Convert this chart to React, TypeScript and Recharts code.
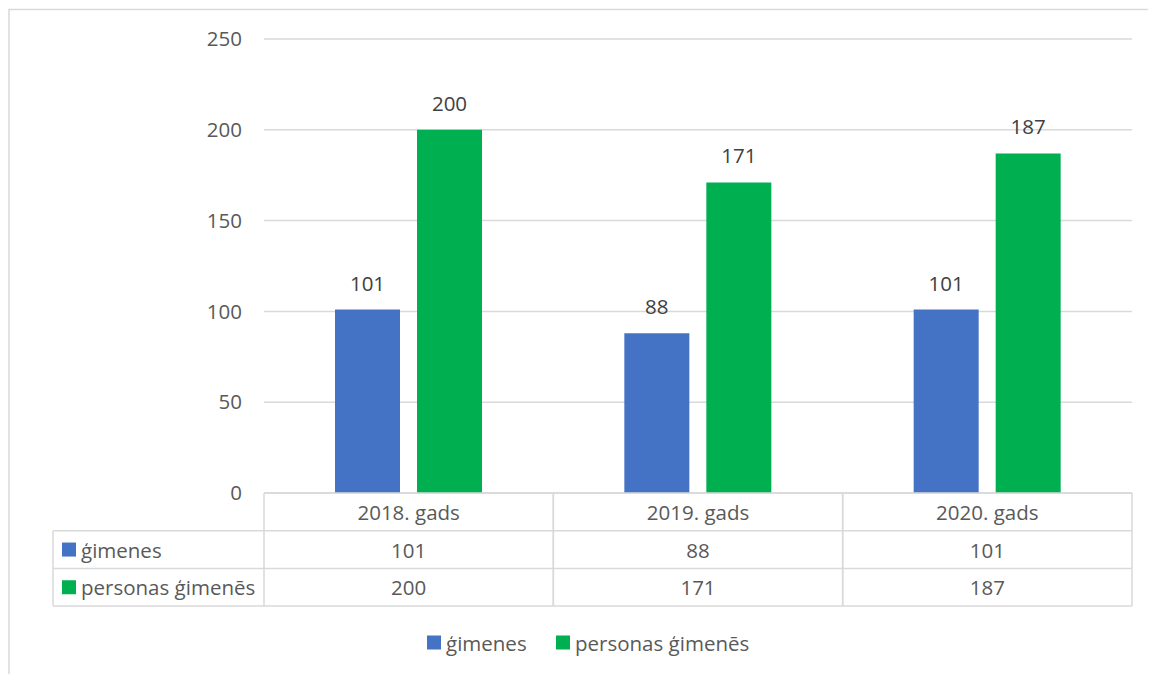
import React from 'react';
import { BarChart, Bar, XAxis, YAxis, CartesianGrid, LabelList, Customized } from 'recharts';

const categories = ['2018. gads', '2019. gads', '2020. gads'];
const gimenes = [101, 88, 101];
const personas = [200, 171, 187];
const yTicks = [0, 50, 100, 150, 200, 250];
const seriesNames = ['ģimenes', 'personas ģimenēs'];

const BLUE = '#4472C4';
const GREEN = '#00B050';
const TEXT = '#595959';
const LABEL = '#404040';
const LINE = '#D9D9D9';
const FONT = '"Open Sans", "Noto Sans", sans-serif';
const FS = 20.5;

const W = 1148;
const H = 666;
const M = { top: 31, right: 24, left: 196, bottom: 61 };
const YW = 60;
const XH = 120;
const PLOT_W = W - M.left - YW - M.right;
const ROW_H = 37.7;
const LEFT_COL = 211;

const data = categories.map((c, i) => ({ cat: c, g: gimenes[i], p: personas[i] }));
const seriesValues = [gimenes, personas];
const seriesColors = [BLUE, GREEN];

const TableTick = (props: any) => {
  const { x, y, payload, index } = props;
  const band = PLOT_W / categories.length;
  const l = x - band / 2;
  const r = x + band / 2;
  const rows = 3;
  return (
    <g>
      <line x1={l} x2={l} y1={y} y2={y + ROW_H * rows} stroke={LINE} strokeWidth={1.5} />
      <line x1={r} x2={r} y1={y} y2={y + ROW_H * rows} stroke={LINE} strokeWidth={1.5} />
      {[1, 2, 3].map((k) => (
        <line key={k} x1={l} x2={r} y1={y + ROW_H * k} y2={y + ROW_H * k} stroke={LINE} strokeWidth={1.5} />
      ))}
      <text x={x} y={y + ROW_H * 0.5} textAnchor="middle" dominantBaseline="central" fill={TEXT} fontSize={FS} fontFamily={FONT}>
        {payload.value}
      </text>
      {seriesValues.map((vals, s) => (
        <text key={s} x={x} y={y + ROW_H * (s + 1.5)} textAnchor="middle" dominantBaseline="central" fill={TEXT} fontSize={FS} fontFamily={FONT}>
          {vals[index]}
        </text>
      ))}
      {index === 0 && (
        <g>
          <line x1={l - LEFT_COL} x2={l - LEFT_COL} y1={y + ROW_H} y2={y + ROW_H * 3} stroke={LINE} strokeWidth={1.5} />
          {[1, 2, 3].map((k) => (
            <line key={k} x1={l - LEFT_COL} x2={l} y1={y + ROW_H * k} y2={y + ROW_H * k} stroke={LINE} strokeWidth={1.5} />
          ))}
          {seriesNames.map((n, s) => (
            <g key={n}>
              <rect x={l - LEFT_COL + 9} y={y + ROW_H * (s + 1.5) - 7} width={14} height={14} fill={seriesColors[s]} />
              <text x={l - LEFT_COL + 28} y={y + ROW_H * (s + 1.5)} dominantBaseline="central" fill={TEXT} fontSize={FS} fontFamily={FONT}>
                {n}
              </text>
            </g>
          ))}
        </g>
      )}
    </g>
  );
};

const LegendAndBorder = () => {
  const ly = 634.5;
  const items = [
    { x: 419, name: seriesNames[0], color: BLUE },
    { x: 548, name: seriesNames[1], color: GREEN },
  ];
  return (
    <g>
      <rect x={1} y={1.5} width={3000} height={3000} fill="none" stroke={LINE} strokeWidth={1.5} />
      {items.map((it) => (
        <g key={it.name}>
          <rect x={it.x} y={ly - 7} width={14} height={14} fill={it.color} />
          <text x={it.x + 19} y={ly} dominantBaseline="central" fill={TEXT} fontSize={FS} fontFamily={FONT}>
            {it.name}
          </text>
        </g>
      ))}
    </g>
  );
};

export default function App() {
  return (
    <BarChart width={W} height={H} data={data} margin={M} barGap={17} barSize={65}>
      <CartesianGrid vertical={false} stroke={LINE} strokeWidth={1.5} />
      <YAxis
        width={YW}
        domain={[0, 250]}
        ticks={yTicks}
        axisLine={false}
        tickLine={false}
        tickSize={6}
        tickMargin={16}
        tick={{ fill: TEXT, fontSize: FS, fontFamily: FONT }}
      />
      <XAxis
        dataKey="cat"
        height={XH}
        tickLine={false}
        tickSize={0}
        tickMargin={0}
        axisLine={{ stroke: LINE, strokeWidth: 1.5 }}
        tick={<TableTick />}
        interval={0}
      />
      <Bar dataKey="g" fill={BLUE} isAnimationActive={false}>
        <LabelList dataKey="g" position="top" offset={19} fill={LABEL} fontSize={FS} fontFamily={FONT} />
      </Bar>
      <Bar dataKey="p" fill={GREEN} isAnimationActive={false}>
        <LabelList dataKey="p" position="top" offset={19} fill={LABEL} fontSize={FS} fontFamily={FONT} />
      </Bar>
      <Customized component={LegendAndBorder} />
    </BarChart>
  );
}
